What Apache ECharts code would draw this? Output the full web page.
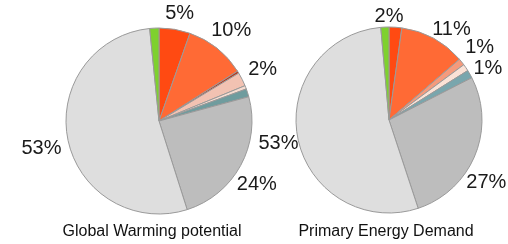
<!DOCTYPE html>
<html>
<head>
<meta charset="utf-8">
<script src="https://cdn.jsdelivr.net/npm/echarts@6/dist/echarts.min.js"></script>
<style>
  html, body { margin: 0; padding: 0; background: #fff; }
  #chart { width: 508px; height: 244px; }
</style>
</head>
<body>
<div id="chart"></div>
<script>
// slices, clockwise from 12 o'clock
var leftNames  = ['Red', 'Orange', 'Dark red', 'Pink', 'Pale', 'Teal', 'Grey', 'Light grey', 'Green'];
var leftValues = [5.4, 10.6, 0.4, 2.4, 0.6, 1.4, 24.3, 53.3, 1.6];
var leftLabels = ['5%', '10%', '', '2%', '', '', '24%', '53%', ''];
var leftColors = ['#ff4a12', '#ff6a35', '#b83a20', '#f2c2b2', '#f7dcd0', '#6f9c9e', '#bdbdbd', '#dedede', '#7ed12e'];

var rightNames  = ['Red', 'Orange', 'Salmon', 'Pale', 'Teal', 'Grey', 'Light grey', 'Green'];
var rightValues = [2.2, 11.4, 1.2, 1.2, 1.4, 27.3, 53.4, 1.4];
var rightLabels = ['2%', '11%', '1%', '1%', '', '27%', '53%', ''];
var rightColors = ['#ff4a12', '#ff6a35', '#f59a7c', '#fbe2d6', '#79a6ad', '#bdbdbd', '#dedede', '#7ed12e'];

var titles = ['Global Warming potential', 'Primary Energy Demand'];

var R = 93;

// small hand nudges so the labels sit where the original tool put them
var leftNudge = {
    0: { dx: 1, dy: 7 },
    6: { dx: -4, dy: 8 },
    7: { dx: -4, dy: 4 }
};
var rightNudge = {
    0: { dx: -8, dy: 12 },
    1: { dx: 7, dy: 11 },
    3: { dx: 3, dy: 14 },
    5: { dx: -10, dy: 18 },
    6: { dx: 3 }
};

function sliceData(names, values, colors) {
    var d = [];
    for (var i in names)
        d.push({ name: names[i], value: values[i], itemStyle: { color: colors[i] } });
    return d;
}

function labelData(names, values, labels) {
    var d = [];
    for (var i in names)
        d.push({ name: names[i], value: values[i],
                 label: { show: labels[i] !== '', formatter: labels[i] } });
    return d;
}

function pieSeries(center, names, values, colors) {
    return {
        type: 'pie',
        center: center,
        radius: [0, R],
        startAngle: 90,
        clockwise: true,
        animation: false,
        silent: true,
        label: { show: false },
        labelLine: { show: false },
        itemStyle: { borderColor: '#9a9a9a', borderWidth: 1 },
        data: sliceData(names, values, colors)
    };
}

// transparent ring, only used to place the percent labels just outside the pie
function labelSeries(center, names, values, labels, nudge) {
    return {
        type: 'pie',
        center: center,
        radius: [R, R + 40],
        startAngle: 90,
        clockwise: true,
        animation: false,
        silent: true,
        avoidLabelOverlap: false,
        itemStyle: { color: 'rgba(0,0,0,0)' },
        label: {
            position: 'inside',
            color: '#1a1a1a',
            fontFamily: 'Liberation Sans',
            fontSize: 20
        },
        labelLine: { show: false },
        labelLayout: function (params) {
            return nudge[params.dataIndex] || {};
        },
        data: labelData(names, values, labels)
    };
}

var chart = echarts.init(document.getElementById('chart'));
var option = {
    backgroundColor: '#fff',
    title: [
        { text: titles[0], left: 147, top: 219, textAlign: 'center',
          textStyle: { fontFamily: 'Liberation Sans', fontSize: 16, fontWeight: 'normal', color: '#111' } },
        { text: titles[1], left: 381, top: 219, textAlign: 'center',
          textStyle: { fontFamily: 'Liberation Sans', fontSize: 16, fontWeight: 'normal', color: '#111' } }
    ],
    series: [
        pieSeries([159, 121], leftNames, leftValues, leftColors),
        labelSeries([159, 121], leftNames, leftValues, leftLabels, leftNudge),
        pieSeries([389, 120], rightNames, rightValues, rightColors),
        labelSeries([389, 120], rightNames, rightValues, rightLabels, rightNudge)
    ]
};
chart.setOption(option);
</script>
</body>
</html>
